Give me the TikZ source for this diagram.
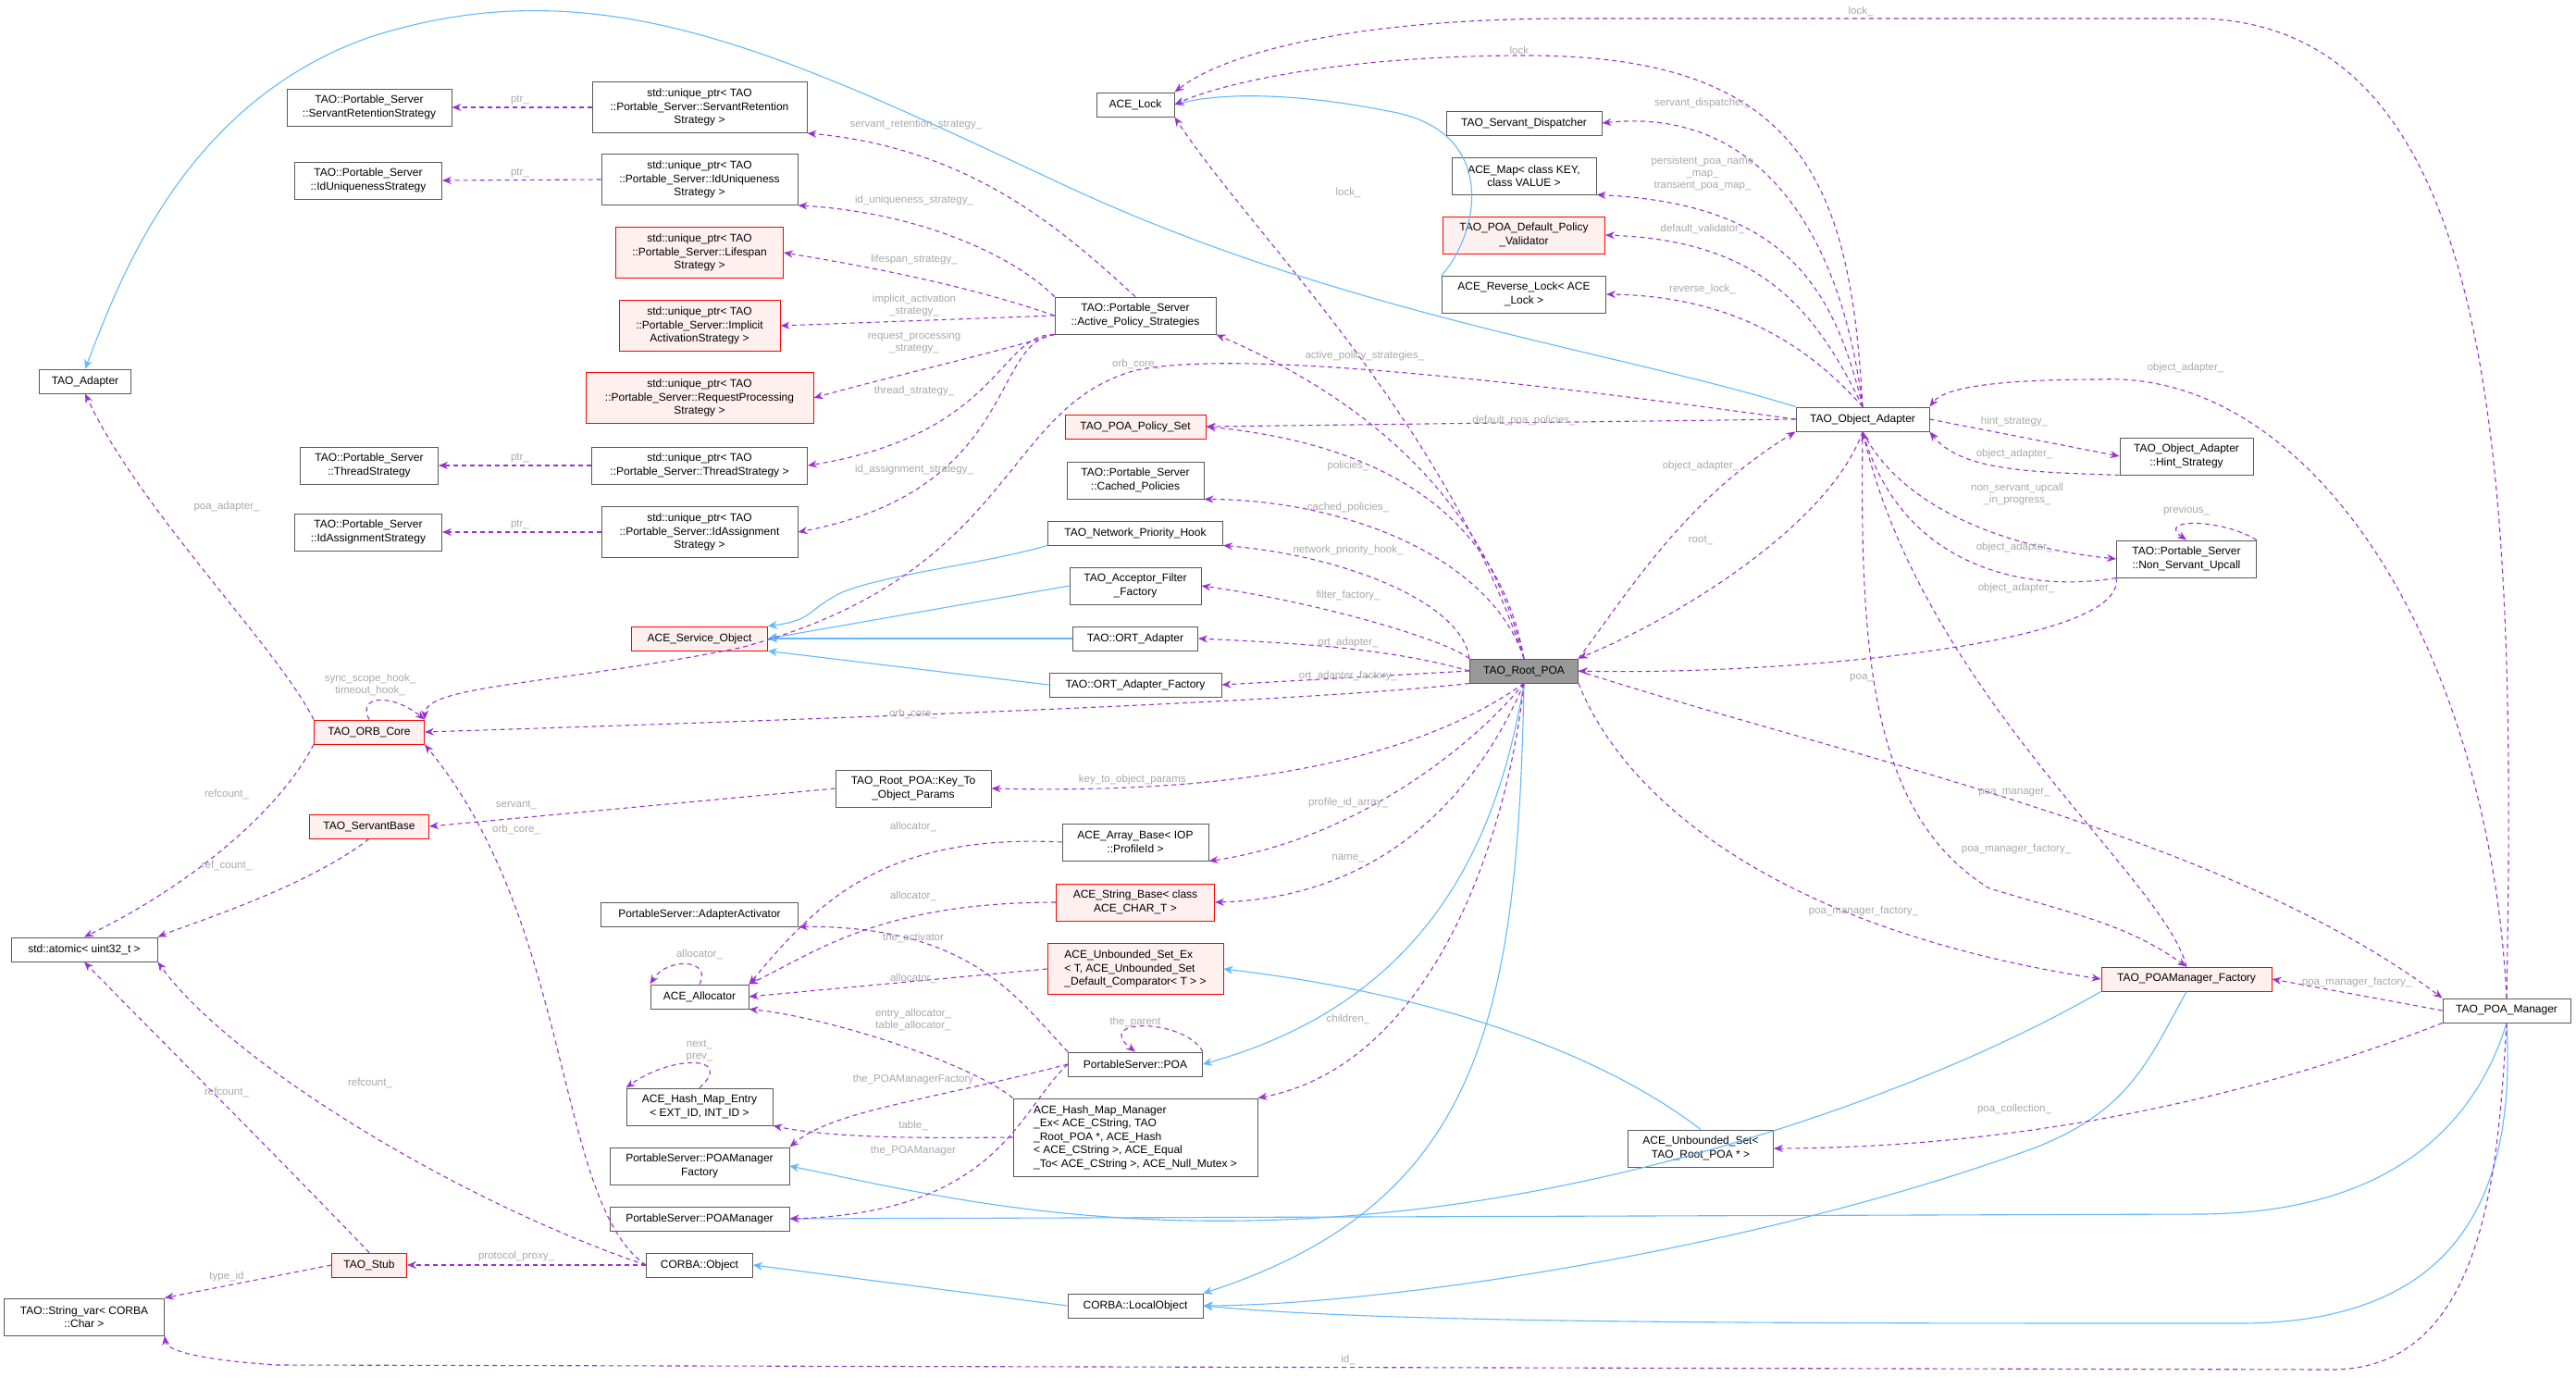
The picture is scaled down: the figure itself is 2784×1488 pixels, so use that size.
\documentclass[tikz,border=0pt]{standalone}
\usepackage{fontspec}
\setmainfont{Liberation Sans}
\usetikzlibrary{arrows.meta}
\definecolor{dp}{HTML}{9A32CD}
\definecolor{ih}{HTML}{63B8FF}
\definecolor{lb}{HTML}{A8A8A8}
\tikzset{
 bx/.style={draw=black!65, fill=white, line width=0.9pt, align=center, inner sep=2pt, font=\fontsize{12}{14.5}\selectfont},
 rb/.style={bx, draw=red, fill=red!6},
 gb/.style={bx, fill=black!40},
 lbx/.style={align=left},
 dep/.style={draw=dp, dashed, line width=1.1pt, dash pattern=on 5pt off 4pt, -{Stealth[length=10pt,width=8pt]}},
 inh/.style={draw=ih, line width=1.1pt, -{Stealth[length=10pt,width=9pt]}},
 lbl/.style={text=lb, font=\fontsize{11.5}{13}\selectfont, align=center, inner sep=0pt},
}
\begin{document}
\begin{tikzpicture}[x=1pt,y=-1pt]
\useasboundingbox (0,0) rectangle (2784,1488);
\node[bx,minimum width=178pt,minimum height=40pt] (srs) at (399,116) {TAO::Portable\_Server\\::ServantRetentionStrategy};
\node[bx,minimum width=232pt,minimum height=55pt] (upsrs) at (756,116) {std::unique\_ptr< TAO\\::Portable\_Server::ServantRetention\\Strategy >};
\node[bx,minimum width=159pt,minimum height=40pt] (ius) at (398,195) {TAO::Portable\_Server\\::IdUniquenessStrategy};
\node[bx,minimum width=212pt,minimum height=55pt] (upius) at (756,194) {std::unique\_ptr< TAO\\::Portable\_Server::IdUniqueness\\Strategy >};
\node[rb,minimum width=181pt,minimum height=55pt] (uplife) at (756,273) {std::unique\_ptr< TAO\\::Portable\_Server::Lifespan\\Strategy >};
\node[rb,minimum width=174pt,minimum height=55pt] (upimpl) at (756,352) {std::unique\_ptr< TAO\\::Portable\_Server::Implicit\\ActivationStrategy >};
\node[rb,minimum width=246pt,minimum height=55pt] (upreq) at (756,430) {std::unique\_ptr< TAO\\::Portable\_Server::RequestProcessing\\Strategy >};
\node[bx,minimum width=149pt,minimum height=40pt] (ts) at (399,503) {TAO::Portable\_Server\\::ThreadStrategy};
\node[bx,minimum width=233pt,minimum height=40pt] (upts) at (756,503) {std::unique\_ptr< TAO\\::Portable\_Server::ThreadStrategy >};
\node[bx,minimum width=159pt,minimum height=40pt] (ias) at (398,575) {TAO::Portable\_Server\\::IdAssignmentStrategy};
\node[bx,minimum width=212pt,minimum height=55pt] (upias) at (756,575) {std::unique\_ptr< TAO\\::Portable\_Server::IdAssignment\\Strategy >};
\node[bx,minimum width=99pt,minimum height=26pt] (adapter) at (92,412) {TAO\_Adapter};
\node[bx,minimum width=84pt,minimum height=26pt] (lock) at (1227,113) {ACE\_Lock};
\node[bx,minimum width=174pt,minimum height=40pt] (aps) at (1227,341) {TAO::Portable\_Server\\::Active\_Policy\_Strategies};
\node[rb,minimum width=152pt,minimum height=26pt] (pset) at (1227,461) {TAO\_POA\_Policy\_Set};
\node[bx,minimum width=148pt,minimum height=40pt] (cached) at (1227,519) {TAO::Portable\_Server\\::Cached\_Policies};
\node[bx,minimum width=189pt,minimum height=26pt] (nph) at (1227,576) {TAO\_Network\_Priority\_Hook};
\node[bx,minimum width=142pt,minimum height=40pt] (afact) at (1227,633) {TAO\_Acceptor\_Filter\\\_Factory};
\node[bx,minimum width=135pt,minimum height=26pt] (ort) at (1227,690) {TAO::ORT\_Adapter};
\node[rb,minimum width=147pt,minimum height=26pt] (aso) at (756,690) {ACE\_Service\_Object};
\node[bx,minimum width=186pt,minimum height=26pt] (ortf) at (1227,740) {TAO::ORT\_Adapter\_Factory};
\node[rb,minimum width=119pt,minimum height=26pt] (orb) at (399,791) {TAO\_ORB\_Core};
\node[bx,minimum width=168pt,minimum height=40pt] (key) at (987,852) {TAO\_Root\_POA::Key\_To\\\_Object\_Params};
\node[rb,minimum width=129pt,minimum height=26pt] (sb) at (399,893) {TAO\_ServantBase};
\node[bx,minimum width=158pt,minimum height=40pt] (arr) at (1227,910) {ACE\_Array\_Base< IOP\\::ProfileId >};
\node[rb,minimum width=171pt,minimum height=40pt] (str) at (1227,975) {ACE\_String\_Base< class\\ACE\_CHAR\_T >};
\node[bx,minimum width=213pt,minimum height=26pt] (aa) at (756,988) {PortableServer::AdapterActivator};
\node[bx,minimum width=158pt,minimum height=26pt] (atomic) at (91,1026) {std::atomic< uint32\_t >};
\node[rb,lbx,minimum width=190pt,minimum height=55pt] (unbex) at (1227,1047) {ACE\_Unbounded\_Set\_Ex\\< T, ACE\_Unbounded\_Set\\\_Default\_Comparator< T > >};
\node[bx,minimum width=106pt,minimum height=26pt] (alloc) at (756,1077) {ACE\_Allocator};
\node[bx,minimum width=145pt,minimum height=26pt] (poa) at (1227,1150) {PortableServer::POA};
\node[bx,minimum width=158pt,minimum height=40pt] (hme) at (756,1196) {ACE\_Hash\_Map\_Entry\\< EXT\_ID, INT\_ID >};
\node[bx,lbx,minimum width=264pt,minimum height=84pt] (hmm) at (1227,1229) {ACE\_Hash\_Map\_Manager\\\_Ex< ACE\_CString, TAO\\\_Root\_POA *, ACE\_Hash\\< ACE\_CString >, ACE\_Equal\\\_To< ACE\_CString >, ACE\_Null\_Mutex >};
\node[bx,minimum width=194pt,minimum height=40pt] (pmf) at (756,1260) {PortableServer::POAManager\\Factory};
\node[bx,minimum width=194pt,minimum height=26pt] (pm) at (756,1317) {PortableServer::POAManager};
\node[rb,minimum width=81pt,minimum height=26pt] (stub) at (399,1367) {TAO\_Stub};
\node[bx,minimum width=115pt,minimum height=26pt] (cobj) at (756,1367) {CORBA::Object};
\node[bx,minimum width=146pt,minimum height=26pt] (lobj) at (1227,1411) {CORBA::LocalObject};
\node[bx,minimum width=173pt,minimum height=40pt] (strvar) at (91,1423) {TAO::String\_var< CORBA\\::Char >};
\node[bx,minimum width=168pt,minimum height=26pt] (sd) at (1647,133) {TAO\_Servant\_Dispatcher};
\node[bx,minimum width=156pt,minimum height=40pt] (map) at (1647,190) {ACE\_Map< class KEY,\\class VALUE >};
\node[rb,minimum width=175pt,minimum height=40pt] (dpv) at (1647,254) {TAO\_POA\_Default\_Policy\\\_Validator};
\node[bx,minimum width=177pt,minimum height=40pt] (rlock) at (1647,318) {ACE\_Reverse\_Lock< ACE\\\_Lock >};
\node[bx,minimum width=144pt,minimum height=26pt] (oa) at (2013,453) {TAO\_Object\_Adapter};
\node[bx,minimum width=144pt,minimum height=40pt] (hint) at (2363,493) {TAO\_Object\_Adapter\\::Hint\_Strategy};
\node[bx,minimum width=151pt,minimum height=40pt] (nsu) at (2363,604) {TAO::Portable\_Server\\::Non\_Servant\_Upcall};
\node[gb,minimum width=117pt,minimum height=26pt] (root) at (1647,725) {TAO\_Root\_POA};
\node[rb,minimum width=184pt,minimum height=26pt] (pmfac) at (2363,1058) {TAO\_POAManager\_Factory};
\node[bx,minimum width=138pt,minimum height=26pt] (pman) at (2709,1092) {TAO\_POA\_Manager};
\node[bx,minimum width=157pt,minimum height=40pt] (unb) at (1838,1241) {ACE\_Unbounded\_Set<\\TAO\_Root\_POA * >};

% inheritance
\draw[inh] (oa.north west) .. controls (1750,380) and (1450,340) .. (1150,200) .. controls (850,60) and (650,-40) .. (400,40) .. controls (200,110) and (130,300) .. (adapter.north);
\draw[inh] (rlock.north west) .. controls (1600,250) and (1620,140) .. (1500,120) .. controls (1400,100) and (1320,100) .. (lock.east);
\draw[inh] (nph.south west) .. controls (1060,610) and (960,620) .. (910,640) .. controls (870,660) and (880,670) .. (aso.north east);
\draw[inh] (afact.west) -- (aso.east);
\draw[inh] (ort.west) -- (aso.east);
\draw[inh] (ortf.west) -- (aso.south east);
\draw[inh] (root.south) .. controls (1620,900) and (1550,1080) .. (poa.east);
\draw[inh] (root.south) .. controls (1640,1100) and (1600,1300) .. (lobj.north east);
\draw[inh] (pmfac.south west) .. controls (2100,1170) and (1800,1280) .. (1500,1310) .. controls (1200,1340) and (1000,1290) .. (pmf.east);
\draw[inh] (pmfac.south) .. controls (2320,1150) and (2300,1200) .. (2200,1240) .. controls (1900,1350) and (1500,1410) .. (lobj.east);
\draw[inh] (pman.south) .. controls (2680,1200) and (2600,1310) .. (2380,1312) -- (pm.east);
\draw[inh] (pman.south) .. controls (2720,1300) and (2650,1430) .. (2420,1430) .. controls (1900,1430) and (1500,1430) .. (lobj.east);
\draw[inh] (unb.north) .. controls (1760,1160) and (1600,1080) .. (unbex.east);
\draw[inh] (lobj.west) -- (cobj.east);

% deps from aps
\draw[dep] (aps.north) .. controls (1150,250) and (1050,160) .. (upsrs.south east) node[lbl] at (990,135) {servant\_retention\_strategy\_};
\draw[dep] (aps.north west) .. controls (1100,280) and (1000,230) .. (upius.south east) node[lbl] at (988,217) {id\_uniqueness\_strategy\_};
\draw[dep] (aps.west) .. controls (1050,310) and (950,290) .. (uplife.east) node[lbl] at (988,281) {lifespan\_strategy\_};
\draw[dep] (aps.west) -- (upimpl.east) node[lbl] at (988,330) {implicit\_activation\\\_strategy\_};
\draw[dep] (aps.south west) .. controls (1080,380) and (950,410) .. (upreq.east) node[lbl] at (988,370) {request\_processing\\\_strategy\_};
\draw[dep] (aps.south west) .. controls (1080,360) and (1080,470) .. (upts.east) node[lbl] at (988,423) {thread\_strategy\_};
\draw[dep] (aps.south west) .. controls (1070,370) and (1100,530) .. (upias.east) node[lbl] at (988,508) {id\_assignment\_strategy\_};
\draw[dep] (upsrs.west) -- (srs.east) node[lbl] at (562,108) {ptr\_};
\draw[dep] (upius.west) -- (ius.east) node[lbl] at (562,187) {ptr\_};
\draw[dep] (upts.west) -- (ts.east) node[lbl] at (562,495) {ptr\_};
\draw[dep] (upias.west) -- (ias.east) node[lbl] at (562,567) {ptr\_};

% deps from root
\draw[dep] (root.north) .. controls (1560,450) and (1350,250) .. (lock.south east) node[lbl] at (1457,208) {lock\_};
\draw[dep] (root.north) .. controls (1600,520) and (1450,420) .. (aps.south east) node[lbl,anchor=west] at (1410,385) {active\_policy\_strategies\_};
\draw[dep] (root.north) .. controls (1620,560) and (1500,480) .. (pset.east) node[lbl] at (1457,504) {policies\_};
\draw[dep] (root.north) .. controls (1610,600) and (1450,540) .. (cached.south east) node[lbl] at (1457,549) {cached\_policies\_};
\draw[dep] (root.north west) .. controls (1580,650) and (1450,600) .. (nph.south east) node[lbl] at (1457,595) {network\_priority\_hook\_};
\draw[dep] (root.north west) .. controls (1560,690) and (1420,650) .. (afact.east) node[lbl] at (1457,644) {filter\_factory\_};
\draw[dep] (root.west) .. controls (1500,700) and (1400,695) .. (ort.east) node[lbl] at (1457,695) {ort\_adapter\_};
\draw[dep] (root.west) -- (ortf.east) node[lbl] at (1457,731) {ort\_adapter\_factory\_};
\draw[dep] (root.south west) .. controls (1400,760) and (800,780) .. (orb.east) node[lbl] at (987,771) {orb\_core\_};
\draw[dep] (root.south) .. controls (1560,800) and (1400,860) .. (key.east) node[lbl] at (1227,843) {key\_to\_object\_params\_};
\draw[dep] (root.south) .. controls (1580,820) and (1450,910) .. (arr.south east) node[lbl] at (1457,868) {profile\_id\_array\_};
\draw[dep] (root.south) .. controls (1600,850) and (1500,970) .. (str.east) node[lbl] at (1457,928) {name\_};
\draw[dep] (root.south) .. controls (1630,900) and (1550,1150) .. (hmm.north east) node[lbl] at (1457,1101) {children\_};
\draw[dep] (root.north east) .. controls (1760,640) and (1820,540) .. (oa.south west) node[lbl] at (1838,504) {object\_adapter\_};
\draw[dep] (oa.south) .. controls (1980,560) and (1830,660) .. (root.north east) node[lbl] at (1838,584) {root\_};
\draw[dep] (root.south east) .. controls (1750,850) and (1900,1000) .. (pmfac.west) node[lbl] at (2014,985) {poa\_manager\_factory\_};
\draw[dep] (root.east) .. controls (2000,820) and (2400,900) .. (pman.north west) node[lbl] at (2177,857) {poa\_manager\_};
\draw[dep] (nsu.south west) .. controls (2300,700) and (1900,730) .. (root.east) node[lbl] at (2012,733) {poa\_};

% deps from others
\draw[dep] (pman.north) .. controls (2720,500) and (2700,30) .. (2380,20) -- (1700,20) .. controls (1450,20) and (1320,60) .. (lock.north east) node[lbl] at (2011,12) {lock\_};
\draw[dep] (pman.north) .. controls (2690,700) and (2500,400) .. (2270,410) .. controls (2150,410) and (2100,420) .. (oa.north east) node[lbl] at (2362,398) {object\_adapter\_};
\draw[dep] (pman.west) -- (pmfac.east) node[lbl] at (2547,1062) {poa\_manager\_factory\_};
\draw[dep] (pman.south west) .. controls (2450,1180) and (2200,1240) .. (unb.east) node[lbl] at (2177,1199) {poa\_collection\_};
\draw[dep] (pman.south) .. controls (2700,1250) and (2690,1480) .. (2520,1480) -- (300,1475) .. controls (220,1470) and (180,1460) .. (strvar.south east) node[lbl] at (1457,1469) {id\_};
\draw[dep] (pmfac.north) .. controls (2340,950) and (2080,750) .. (oa.south) node[lbl] at (2179,636) {object\_adapter\_};
\draw[dep] (oa.south) .. controls (2010,700) and (2020,880) .. (2150,960) .. controls (2250,990) and (2300,1000) .. (pmfac.north) node[lbl] at (2179,918) {poa\_manager\_factory\_};
\draw[dep] (oa.north) .. controls (2000,200) and (1950,60) .. (1650,60) .. controls (1450,60) and (1320,90) .. (lock.east) node[lbl] at (1645,55) {lock\_};
\draw[dep] (oa.north) .. controls (1990,250) and (1900,115) .. (sd.east) node[lbl] at (1840,112) {servant\_dispatcher\_};
\draw[dep] (oa.north) .. controls (1980,300) and (1920,220) .. (map.south east) node[lbl] at (1840,188) {persistent\_poa\_name\\\_map\_\\transient\_poa\_map\_};
\draw[dep] (oa.north) .. controls (1960,330) and (1900,260) .. (dpv.east) node[lbl] at (1840,247) {default\_validator\_};
\draw[dep] (oa.north) .. controls (1960,380) and (1880,320) .. (rlock.east) node[lbl] at (1840,312) {reverse\_lock\_};
\draw[dep] (oa.west) .. controls (1700,420) and (1350,375) .. (1228,400) .. controls (1080,440) and (1100,620) .. (800,700) .. controls (600,740) and (460,740) .. (orb.north east) node[lbl] at (1228,393) {orb\_core\_};
\draw[dep] (oa.west) -- (pset.east) node[lbl] at (1647,455) {default\_poa\_policies\_};
\draw[dep] (oa.east) -- (hint.west) node[lbl] at (2177,456) {hint\_strategy\_};
\draw[dep] (hint.south west) .. controls (2200,510) and (2120,510) .. (oa.south east) node[lbl] at (2177,491) {object\_adapter\_};
\draw[dep] (oa.south) .. controls (2050,540) and (2150,590) .. (nsu.west) node[lbl] at (2180,534) {non\_servant\_upcall\\\_in\_progress\_};
\draw[dep] (nsu.south west) .. controls (2200,640) and (2060,620) .. (oa.south) node[lbl] at (2177,592) {object\_adapter\_};
\draw[dep] (nsu.north east) .. controls (2400,560) and (2330,560) .. (nsu.north) node[lbl] at (2363,552) {previous\_};

% left side
\draw[dep] (orb.north west) .. controls (300,700) and (150,550) .. (adapter.south) node[lbl] at (245,548) {poa\_adapter\_};
\draw[dep] (orb.north) .. controls (385,750) and (425,750) .. (orb.north east) node[lbl] at (400,740) {sync\_scope\_hook\_\\timeout\_hook\_};
\draw[dep] (orb.south west) .. controls (300,880) and (200,960) .. (atomic.north) node[lbl] at (245,858) {refcount\_};
\draw[dep] (sb.south) .. controls (330,960) and (200,1000) .. (atomic.north east) node[lbl] at (245,935) {ref\_count\_};
\draw[dep] (key.west) -- (sb.east) node[lbl] at (558,870) {servant\_};
\draw[dep] (cobj.west) .. controls (600,1300) and (620,1000) .. (orb.south east) node[lbl] at (558,896) {orb\_core\_};
\draw[dep] (cobj.west) .. controls (500,1300) and (250,1150) .. (atomic.south east) node[lbl] at (400,1170) {refcount\_};
\draw[dep] (stub.north) .. controls (300,1250) and (150,1100) .. (atomic.south) node[lbl] at (245,1180) {refcount\_};
\draw[dep] (stub.west) -- (strvar.north east) node[lbl] at (245,1380) {type\_id};
\draw[dep] (cobj.west) -- (stub.east) node[lbl] at (558,1358) {protocol\_proxy\_};
\draw[dep] (arr.west) .. controls (950,900) and (880,980) .. (alloc.north east) node[lbl] at (987,893) {allocator\_};
\draw[dep] (str.west) .. controls (950,975) and (880,1030) .. (alloc.north east) node[lbl] at (987,968) {allocator\_};
\draw[dep] (unbex.west) -- (alloc.east) node[lbl] at (987,1057) {allocator\_};
\draw[dep] (alloc.north) .. controls (770,1035) and (720,1035) .. (alloc.north west) node[lbl] at (756,1031) {allocator\_};
\draw[dep] (hmm.north west) .. controls (1050,1150) and (900,1100) .. (alloc.south east) node[lbl] at (987,1102) {entry\_allocator\_\\table\_allocator\_};
\draw[dep] (hmm.west) .. controls (1000,1230) and (900,1230) .. (hme.south east) node[lbl] at (987,1216) {table\_};
\draw[dep] (hme.north) .. controls (795,1140) and (725,1140) .. (hme.north west) node[lbl] at (756,1135) {next\_\\prev\_};
\draw[dep] (poa.north west) .. controls (1100,1080) and (1050,1000) .. (aa.south east) node[lbl] at (987,1013) {the\_activator};
\draw[dep] (poa.north east) .. controls (1280,1100) and (1180,1100) .. (poa.north) node[lbl] at (1227,1105) {the\_parent};
\draw[dep] (poa.west) .. controls (1000,1190) and (900,1200) .. (pmf.north east) node[lbl] at (987,1167) {the\_POAManagerFactory};
\draw[dep] (poa.west) .. controls (1100,1200) and (1080,1310) .. (pm.east) node[lbl] at (987,1244) {the\_POAManager};
\end{tikzpicture}
\end{document}
